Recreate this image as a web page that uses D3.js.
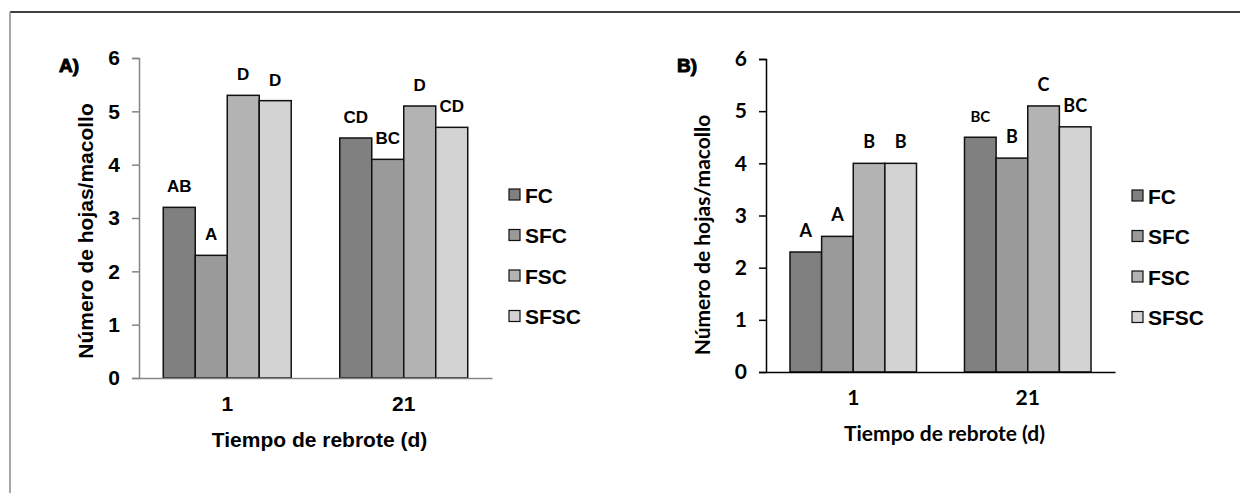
<!DOCTYPE html>
<meta charset="utf-8">
<style>
body { margin: 0; background: #fff; }
svg { display: block; }
.lab-a { font-family: "Liberation Sans", Arial, sans-serif; font-weight: bold; }
.lab-b { font-family: Lato, "Open Sans", sans-serif; font-weight: bold; }
</style>
<svg width="1240" height="493"></svg>
<script src="https://cdnjs.cloudflare.com/ajax/libs/d3/7.8.5/d3.min.js"></script>
<script>

var categories = ["1", "21"];
var series = ["FC", "SFC", "FSC", "SFSC"];
var colors = ["#808080", "#9a9a9a", "#b3b3b3", "#d3d3d3"];
var yTicks = [0, 1, 2, 3, 4, 5, 6];

// panel A: per category, values in series order
var valuesA = [[3.2, 2.3, 5.3, 5.2], [4.5, 4.1, 5.1, 4.7]];
var lettersA = [["AB", "A", "D", "D"], ["CD", "BC", "D", "CD"]];

// panel B
var valuesB = [[2.3, 2.6, 4.0, 4.0], [4.5, 4.1, 5.1, 4.7]];
var lettersB = [["A", "A", "B", "B"], ["BC", "B", "C", "BC"]];

var svg = d3.select("svg");

// outer frame
svg.append("line").attr("x1", 10).attr("x2", 1240).attr("y1", 12).attr("y2", 12)
    .attr("stroke", "#000").attr("stroke-width", 1.5);
svg.append("line").attr("x1", 10).attr("x2", 10).attr("y1", 12).attr("y2", 493)
    .attr("stroke", "#888").attr("stroke-width", 1.5);

function drawPanel(p) {
  var g = svg.append("g");

  var x0 = d3.scaleBand().domain(categories).range([p.left, p.right]).paddingInner(0).paddingOuter(0);
  var x1 = d3.scaleBand().domain(series).range([0, x0.bandwidth() * 0.725]).padding(0);
  var y = d3.scaleLinear().domain([0, 6]).range([p.bottom, p.top]);
  var off = x0.bandwidth() * 0.1375;

  // bars
  categories.forEach(function(c, ci) {
    var grp = g.append("g").attr("transform", "translate(" + (x0(c) + off) + ",0)");
    grp.selectAll("rect")
      .data(p.values[ci])
      .enter().append("rect")
        .attr("x", function(d, i) { return x1(series[i]); })
        .attr("y", function(d) { return y(d); })
        .attr("width", x1.bandwidth())
        .attr("height", function(d) { return y(0) - y(d); })
        .attr("fill", function(d, i) { return colors[i]; })
        .attr("stroke", "#111")
        .attr("stroke-width", 1.5);
    grp.selectAll("text")
      .data(p.values[ci])
      .enter().append("text")
        .attr("class", p.letterClass)
        .attr("x", function(d, i) { return x1(series[i]) + x1.bandwidth() / 2; })
        .attr("y", function(d) { return y(d) - 15; })
        .attr("text-anchor", "middle")
        .style("font-size", function(d, i) {
          var small = p.small && p.small[0] == ci && p.small[1] == i;
          return (small ? 15 : p.letterSize) + "px";
        })
        .text(function(d, i) { return p.letters[ci][i]; });
  });

  // y axis
  var ya = g.append("g")
      .attr("transform", "translate(" + p.left + ",0)")
      .call(d3.axisLeft(y).tickValues(yTicks).tickFormat(d3.format("d")).tickSize(7).tickPadding(12));
  ya.select(".domain").attr("stroke", p.axisColor).attr("stroke-width", 1.5);
  ya.selectAll(".tick line").attr("stroke", p.axisColor).attr("stroke-width", 1.5);
  ya.selectAll(".tick text").attr("class", p.tickClass).attr("fill", "#000")
      .style("font-size", p.tickSize + "px");

  // x axis
  var xa = g.append("g")
      .attr("transform", "translate(0," + p.bottom + ")")
      .call(d3.axisBottom(x0).tickSize(0).tickPadding(p.xPad));
  xa.select(".domain").attr("stroke", p.axisColor).attr("stroke-width", 1.5);
  xa.selectAll(".tick text").attr("class", p.tickClass).attr("fill", "#000")
      .style("font-size", p.tickSize + "px");

  // titles
  g.append("text")
      .attr("class", p.titleClass)
      .attr("transform", "translate(" + p.yTitleX + "," + p.yTitleY + ") rotate(-90)")
      .attr("text-anchor", "middle")
      .attr("dy", "0.35em")
      .style("font-size", p.titleSize + "px")
      .text("Número de hojas/macollo");

  g.append("text")
      .attr("class", p.titleClass)
      .attr("x", (p.left + p.right) / 2 + 4)
      .attr("y", p.bottom + p.xTitleGap)
      .attr("text-anchor", "middle")
      .style("font-size", p.titleSize + "px")
      .text("Tiempo de rebrote (d)");

  // panel tag
  g.append("text")
      .attr("class", "lab-a")
      .attr("x", p.tagX)
      .attr("y", 72)
      .attr("stroke", "#000")
      .attr("stroke-width", 1)
      .style("font-size", "19px")
      .text(p.tag);

  // legend
  var leg = g.selectAll(".leg")
    .data(series)
    .enter().append("g")
      .attr("transform", function(d, i) { return "translate(" + p.legX + "," + (p.legY + i * 40.5) + ")"; });
  leg.append("rect")
      .attr("x", 0).attr("y", -6).attr("width", 11).attr("height", 11)
      .attr("fill", function(d, i) { return colors[i]; })
      .attr("stroke", "#111").attr("stroke-width", 1.2);
  leg.append("text")
      .attr("class", "lab-a")
      .attr("x", 16).attr("y", 7.5)
      .style("font-size", "21px")
      .text(function(d) { return d; });
}

drawPanel({
  left: 139, right: 492, top: 58, bottom: 378,
  values: valuesA, letters: lettersA,
  axisColor: "#868686",
  tickClass: "lab-a", tickSize: 21, xPad: 18,
  letterClass: "lab-a", letterSize: 17,
  titleClass: "lab-a", titleSize: 21,
  yTitleX: 86, yTitleY: 231, xTitleGap: 69,
  tag: "A)", tagX: 59,
  legX: 509, legY: 195
});

drawPanel({
  left: 766, right: 1115, top: 59, bottom: 372,
  values: valuesB, letters: lettersB, small: [1, 0],
  axisColor: "#000",
  tickClass: "lab-b", tickSize: 21, xPad: 18,
  letterClass: "lab-b", letterSize: 18,
  titleClass: "lab-b", titleSize: 21,
  yTitleX: 703, yTitleY: 235, xTitleGap: 69,
  tag: "B)", tagX: 677,
  legX: 1132, legY: 196
});

</script>
